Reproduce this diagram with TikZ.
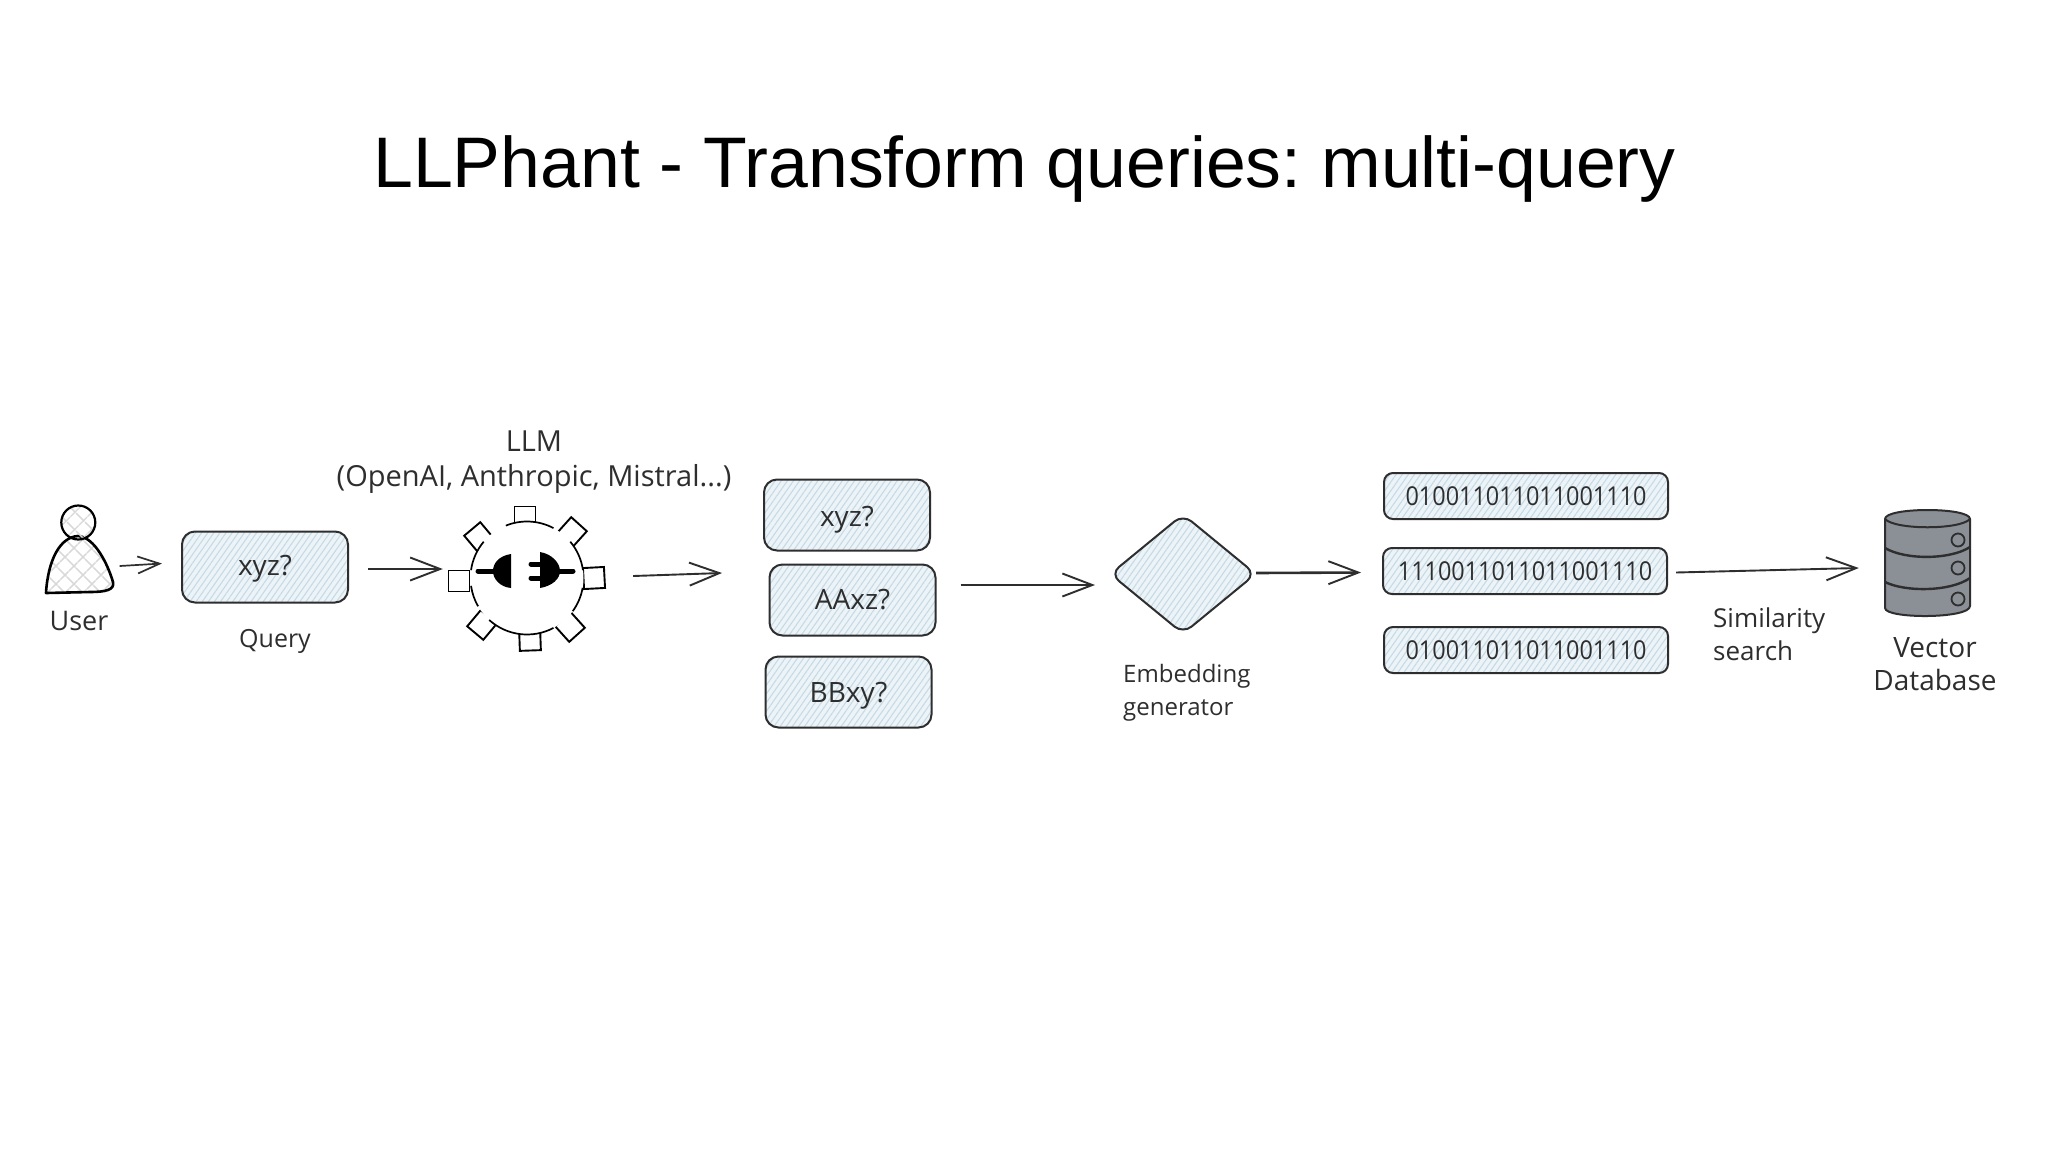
\documentclass[tikz,border=0pt]{standalone}
\usepackage{fontspec}
\setmainfont{Liberation Sans}
\newfontfamily\handfont{Open Sans}
\newfontfamily\handnarrow[FakeStretch=0.90]{Open Sans}
\usetikzlibrary{arrows.meta,patterns.meta,shapes.geometric}
\definecolor{ink}{HTML}{2E2E2E}
\definecolor{hatchbg}{HTML}{EDF4F8}
\definecolor{hatchln}{HTML}{C6DAE6}
\definecolor{crossln}{HTML}{D8D8D8}
\definecolor{dbgray}{HTML}{8B8F96}
\tikzset{
  x=1pt,y=-1pt,
  hand/.style={font=\handfont\fontsize{#1}{#1}\selectfont,text=ink,inner sep=0pt,align=center},
  hatched/.style={draw=ink,line width=2pt,preaction={fill=hatchbg},
    preaction={pattern={Lines[angle=55,distance=5pt,line width=1.1pt]},pattern color=hatchln}},
  qbox/.style={hatched,rounded corners=13pt,minimum width=166pt,inner sep=0pt,minimum height=71pt,hand=28},
  binbox/.style={hatched,rounded corners=9pt,minimum width=284pt,minimum height=46pt,inner sep=0pt,align=center,text=ink,font=\handnarrow\fontsize{26}{26}\selectfont},
  arr/.style={draw=ink,line width=1.9pt,-{Straight Barb[length=30pt,width=23pt,line width=1.9pt]}},
  arrs/.style={draw=ink,line width=1.7pt,-{Straight Barb[length=22pt,width=17pt,line width=1.7pt]}},
  crossA/.style={pattern={Lines[angle=45,distance=13pt,line width=1.6pt]},pattern color=crossln},
  crossB/.style={pattern={Lines[angle=-45,distance=13pt,line width=1.6pt]},pattern color=crossln},
  tooth/.style={draw=black,line width=1.9pt,fill=white},
  rim/.style={draw=black,line width=1.7pt},
}
\newcommand{\userbody}{(46,593) .. controls (48,560) and (60,537) .. (78,536) .. controls (95,537) and (108,565) .. (113,582) .. controls (115,590) and (105,592) .. (90,592) -- cycle}
\begin{document}
\begin{tikzpicture}
\useasboundingbox (0,0) rectangle (2048,1152);
\fill[white] (0,0) rectangle (2048,1152);

\node[anchor=base west,inner sep=0pt,text=black,font=\fontsize{71.6}{72}\selectfont] (title) at (373,187) {\frenchspacing LLPhant - Transform queries: multi-query};

% user
\node[inner sep=0pt,minimum width=68pt,minimum height=88pt] (user) at (79.5,549) {};
\path[crossA] \userbody;
\path[crossB] \userbody;
\draw[black,line width=2.6pt,line join=round] \userbody;
\path[crossA] (78.3,522.5) circle (17);
\path[crossB] (78.3,522.5) circle (17);
\draw[black,line width=2.2pt] (78.3,522.5) circle (17);
\node[hand=27] (userlbl) at (79,621) {User};

% query
\node[qbox,text height=20pt,text depth=3pt] (query) at (265,567) {xyz?};
\node[hand=25] (querylbl) at (275,641) {Query};

% gear
\node[inner sep=0pt,minimum width=120pt,minimum height=120pt] (gear) at (527,578) {};
\foreach \x/\y/\r in {525/517/0,572/532/-42,594/578/3,570/627/42,530/640/2,482/625/-40,459/581/0,479/537/40}
  \draw[tooth,rotate around={\r:(\x,\y)}] (\x-10.5,\y-10.5) rectangle (\x+10.5,\y+10.5);
\fill[white] (527,578) circle (56.5);
\draw[rim] (527,578) ++(132:56.5) arc[start angle=132,end angle=62,radius=56.5];
\draw[rim] (527,578) ++(36:56.5) arc[start angle=36,end angle=10,radius=56.5];
\draw[rim] (527,578) ++(-8:56.5) arc[start angle=-8,end angle=-40,radius=56.5];
\draw[rim] (527,578) ++(-62:56.5) arc[start angle=-62,end angle=-112,radius=56.5];
\draw[rim] (527,578) ++(-140:56.5) arc[start angle=-140,end angle=-172,radius=56.5];
\draw[rim] (527,578) ++(172:56.5) arc[start angle=172,end angle=150,radius=56.5];
% plug
\fill[black] (511,554) .. controls (498,556) and (493,564) .. (493,571) .. controls (493,579) and (500,587) .. (511,588) -- cycle;
\fill[black] (540,552) .. controls (552,554) and (560,563) .. (560,571) .. controls (560,579) and (552,586) .. (540,588) -- cycle;
\draw[black,line width=5pt,line cap=round] (478,571) -- (495,571);
\draw[black,line width=5pt,line cap=round] (558,571) -- (573,571);
\draw[black,line width=5pt,line cap=round] (531,564) -- (541,564);
\draw[black,line width=5pt,line cap=round] (531,578) -- (541,578);
\node[hand=29] (llm) at (534,462) {LLM\\[6pt](OpenAI, Anthropic, Mistral...)};

% queries
\node[qbox,text height=26pt,text depth=3pt] (q1) at (847,515) {xyz?};
\node[qbox] (q2) at (852.5,600) {AAxz?};
\node[qbox,text height=23pt,text depth=3pt] (q3) at (848.5,692) {BBxy?};

% embedding
\node[hatched,diamond,aspect=1.21,inner sep=0pt,minimum width=146pt,minimum height=120pt,rounded corners=11pt] (emb) at (1183,574) {};
\node[hand=24,anchor=north west,align=left] (emblbl) at (1123,664) {Embedding\\[9pt]generator};

% binary
\node[binbox] (b1) at (1526,496) {010011011011001110};
\node[binbox] (b2) at (1525,571) {1110011011011001110};
\node[binbox] (b3) at (1526,650) {010011011011001110};

% similarity
\node[hand=26,anchor=north west,align=left] (sim) at (1713,608) {Similarity\\[7pt]search};

% db
\node[inner sep=0pt,minimum width=88pt,minimum height=107pt] (db) at (1927,562) {};
\draw[ink,line width=2pt,fill=dbgray,line join=round]
  (1885,519) .. controls (1885,507) and (1970,507) .. (1970,519)
  -- (1970,606) .. controls (1970,619) and (1885,619) .. (1885,608) -- cycle;
\draw[ink,line width=2pt] (1885,519) .. controls (1895,530) and (1960,530) .. (1970,519);
\draw[ink,line width=2.4pt] (1885,548) .. controls (1905,560) and (1950,560) .. (1970,547);
\draw[ink,line width=2.4pt] (1885,582) .. controls (1905,592) and (1950,592) .. (1970,578);
\foreach \y in {540,568,599} \draw[ink,line width=1.8pt] (1958,\y) circle (6.5);
\node[hand=28] (dblbl) at (1935,664.5) {Vector\hspace{10pt}\\[5pt]Database};

% connectors
\draw[arrs] ([shift={(6,17)}]user.east) -- ([shift={(-19,-3.5)}]query.west);
\draw[arr] ([shift={(19,2)}]query.east) -- ([shift={(-24,-9)}]gear.west);
\draw[arr] ([shift={(46,-2)}]gear.east) -- ([shift={(-41,58)}]q1.west);
\draw[arr] ([shift={(24,-15)}]q2.east) -- ([shift={(-14,11)}]emb.west);
\draw[arr,line width=2.6pt] ([shift={(-1,-1)}]emb.east) -- ([shift={(-21,1.5)}]b2.west);
\draw[arr] ([shift={(8,1.5)}]b2.east) -- ([shift={(-24,6)}]db.west);
\end{tikzpicture}
\end{document}
